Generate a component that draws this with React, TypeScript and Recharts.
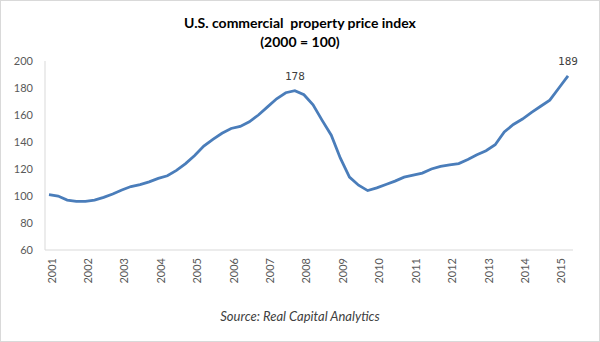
import { LineChart, Line, XAxis, YAxis } from 'recharts';

// quarterly, 2001 Q1 .. 2015 Q2
const quarters = [
  '2001 Q1', '2001 Q2', '2001 Q3', '2001 Q4',
  '2002 Q1', '2002 Q2', '2002 Q3', '2002 Q4',
  '2003 Q1', '2003 Q2', '2003 Q3', '2003 Q4',
  '2004 Q1', '2004 Q2', '2004 Q3', '2004 Q4',
  '2005 Q1', '2005 Q2', '2005 Q3', '2005 Q4',
  '2006 Q1', '2006 Q2', '2006 Q3', '2006 Q4',
  '2007 Q1', '2007 Q2', '2007 Q3', '2007 Q4',
  '2008 Q1', '2008 Q2', '2008 Q3', '2008 Q4',
  '2009 Q1', '2009 Q2', '2009 Q3', '2009 Q4',
  '2010 Q1', '2010 Q2', '2010 Q3', '2010 Q4',
  '2011 Q1', '2011 Q2', '2011 Q3', '2011 Q4',
  '2012 Q1', '2012 Q2', '2012 Q3', '2012 Q4',
  '2013 Q1', '2013 Q2', '2013 Q3', '2013 Q4',
  '2014 Q1', '2014 Q2', '2014 Q3', '2014 Q4',
  '2015 Q1', '2015 Q2',
];

const priceIndex = [
  101, 100, 97, 96,
  96, 97, 99, 101.5,
  104.5, 107, 108.5, 110.5,
  113, 115, 119, 124,
  130, 137, 142, 146.5,
  150, 151.5, 155, 160,
  166, 172, 176.5, 178,
  175, 167.5, 156, 145,
  128, 114, 108, 104,
  106, 108.5, 111, 114,
  115.5, 117, 120, 122,
  123, 124, 127, 130.5,
  133.5, 138, 147.5, 153,
  157, 162, 166.5, 171,
  180, 189,
];

const yearTicks = quarters.filter((q) => q.endsWith('Q1'));
const yTicks = [60, 80, 100, 120, 140, 160, 180, 200];
const labelled = [27, 57];

const data = quarters.map((q, i) => ({ q, value: priceIndex[i] }));

const YearTick = (props: any) => {
  const { x, y, payload } = props;
  return (
    <text
      x={x + 2}
      y={y}
      transform={`rotate(-90, ${x + 2}, ${y})`}
      textAnchor="end"
      dominantBaseline="central"
      fontSize={11}
      fill="#595959"
      fontFamily="Lato"
    >
      {String(payload.value).slice(0, 4)}
    </text>
  );
};

const PointLabel = (props: any) => {
  const { x, y, index, value } = props;
  if (!labelled.includes(index)) return null;
  return (
    <text
      x={x}
      y={y - 11}
      textAnchor="middle"
      fontSize={11}
      fill="#404040"
      fontFamily="DejaVu Sans Mono"
    >
      {Math.round(value)}
    </text>
  );
};

export default function App() {
  return (
    <div
      style={{
        position: 'absolute',
        left: 0,
        top: 0,
        width: 600,
        height: 342,
        background: '#fff',
        boxSizing: 'border-box',
        border: '1px solid #d9d9d9',
        fontFamily: 'Lato',
      }}
    >
      <div
        style={{
          position: 'absolute',
          top: 12,
          width: '100%',
          textAlign: 'center',
          fontWeight: 'bold',
          fontSize: 14,
          lineHeight: '19px',
          color: '#000',
          whiteSpace: 'pre',
        }}
      >
        {'U.S. commercial  property price index\n(2000 = 100)'}
      </div>
      <div style={{ position: 'absolute', left: -1, top: -1 }}>
        <LineChart
          width={600}
          height={342}
          data={data}
          margin={{ top: 61, right: 27, left: 0, bottom: 0 }}
        >
          <XAxis
            dataKey="q"
            ticks={yearTicks}
            interval={0}
            tick={<YearTick />}
            tickLine={false}
            height={92}
            stroke="#d9d9d9"
            padding={{ left: 4, right: 5 }}
          />
          <YAxis
            domain={[60, 200]}
            ticks={yTicks}
            width={45}
            tickLine={false}
            tickMargin={6}
            stroke="#d9d9d9"
            tick={{ fill: '#595959', fontSize: 11, fontFamily: 'Lato' }}
          />
          <Line
            type="linear"
            dataKey="value"
            stroke="#4a7dba"
            strokeWidth={2.8}
            dot={false}
            label={<PointLabel />}
            isAnimationActive={false}
          />
        </LineChart>
      </div>
      <div
        style={{
          position: 'absolute',
          top: 307,
          width: '100%',
          textAlign: 'center',
          fontStyle: 'italic',
          fontSize: 13,
          color: '#404040',
        }}
      >
        Source: Real Capital Analytics
      </div>
    </div>
  );
}
